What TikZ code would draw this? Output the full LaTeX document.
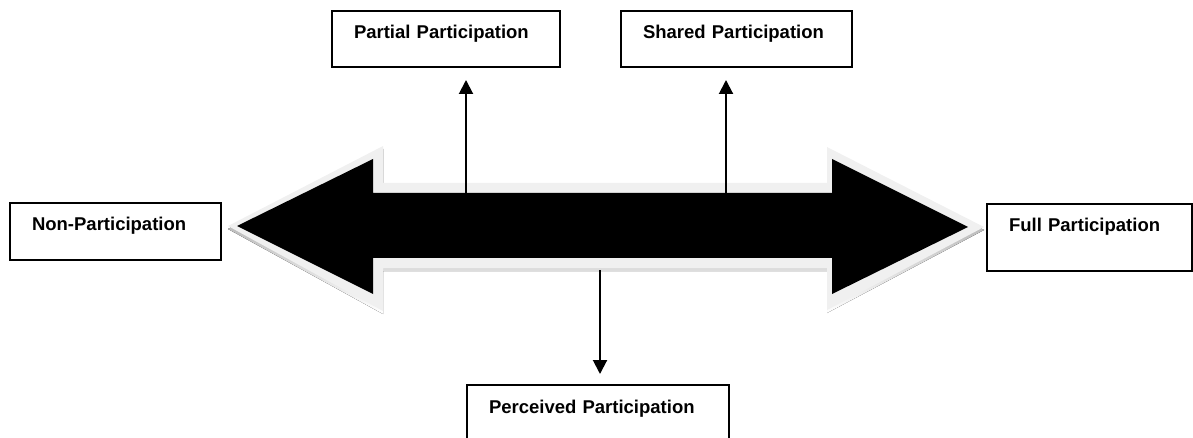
\documentclass[tikz,border=0pt]{standalone}
\usepackage{fontspec}
\setmainfont{Liberation Sans}
\usetikzlibrary{arrows.meta}
\definecolor{rim}{HTML}{F0F0F0}
\definecolor{shade}{HTML}{BDBDBD}
\tikzset{
  box/.style={draw, line width=2pt, anchor=north west, inner xsep=22pt, inner ysep=0pt,
    text height=28pt, align=left, font=\bfseries\fontsize{18.5}{22}\selectfont},
  link/.style={line width=2pt, -{Triangle[width=14pt,length=14pt]}},
}
\begin{document}
\begin{tikzpicture}[x=1pt,y=-1pt]
\useasboundingbox (0,0) rectangle (1193,438);
\clip (0,0) rectangle (1193,438);
% big double arrow: shadow, rim, body
\fill[shade, shift={(0,3)}] (228,226) -- (383,146) -- (383,183) -- (827,183) -- (827,147) -- (984,227) -- (827,310) -- (827,268) -- (383,268) -- (383,311) -- cycle;
\fill[rim] (228,226) -- (383,146) -- (383,183) -- (827,183) -- (827,147) -- (984,227) -- (827,310) -- (827,268) -- (383,268) -- (383,311) -- cycle;
\fill[black] (237,226) -- (373,159) -- (373,193) -- (832,193) -- (832,159) -- (968,227) -- (832,294) -- (832,258) -- (373,258) -- (373,294) -- cycle;
% boxes
\node[box, text width=167pt, text depth=29pt] (non) at (9,202) {Non-Participation};
\node[box, text width=184pt, text depth=28pt] (partial) at (331,10) {Partial Participation};
\node[box, text width=187pt, text depth=28pt] (shared) at (620,10) {Shared Participation};
\node[box, text width=161pt, text depth=39pt] (full) at (986,203) {Full Participation};
\node[box, text width=218pt, text depth=80pt] (perc) at (466,384) {Perceived Participation};
% connectors
\coordinate (pa) at (466,193);
\coordinate (sa) at (726,193);
\coordinate (pe) at (600,270);
\draw[link, shorten >=12pt] (pa) -- (partial.south -| pa);
\draw[link, shorten >=12pt] (sa) -- (shared.south -| sa);
\draw[link, shorten >=10pt] (pe) -- (perc.north -| pe);
\end{tikzpicture}
\end{document}
